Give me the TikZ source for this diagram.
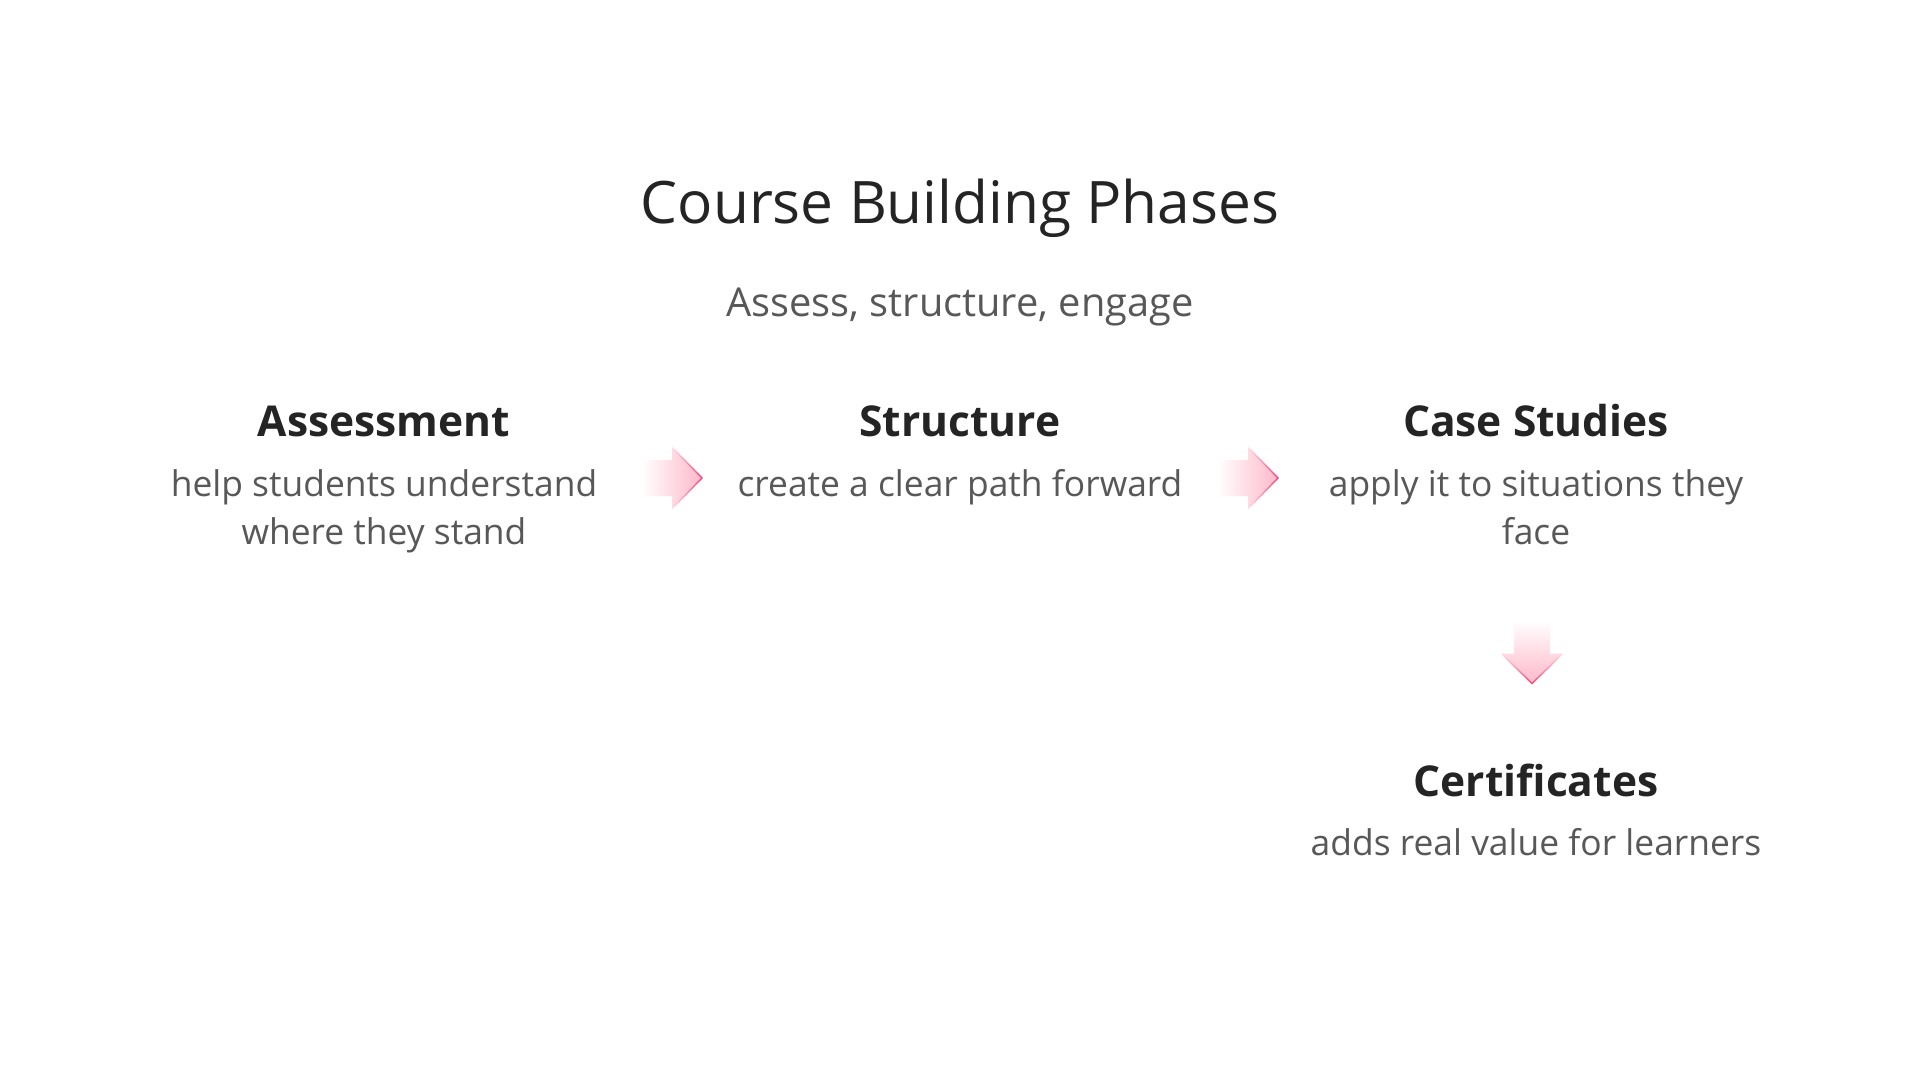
\documentclass[tikz,border=0pt]{standalone}
\usepackage{fontspec}
\setmainfont{Open Sans}
\usetikzlibrary{calc,fadings}

\definecolor{titlegray}{HTML}{242424}
\definecolor{descgray}{HTML}{585858}
\definecolor{arrowpink}{HTML}{FFB8CA}
\definecolor{edgepink}{HTML}{F0467A}

\begin{document}
\begin{tikzpicture}[x=1pt, y=-1pt,
    title/.style={inner sep=0, text=titlegray, font=\fontsize{58.6}{66}\selectfont},
    subtitle/.style={inner sep=0, text=descgray, font=\fontsize{39.8}{48}\selectfont},
    phase/.style={inner sep=0, text=titlegray, font=\bfseries\fontsize{42.5}{50}\selectfont},
    desc/.style={inner sep=0, anchor=north, align=center, text=descgray, font=\fontsize{35.4}{48}\selectfont},
    rarrow/.pic={
        \shade[left color=white, right color=arrowpink] (-31,-18) -- (0,-18) -- (0,-31) -- (30,0) -- (0,31) -- (0,18) -- (-31,18) -- cycle;
        \draw[edgepink, line width=1.4, path fading=west] (0,-31) -- (30,0) -- (0,31);
    },
    darrow/.pic={
        \shade[top color=white, bottom color=arrowpink] (-18,-33) -- (-18,0) -- (-31,0) -- (0,30) -- (31,0) -- (18,0) -- (18,-33) -- cycle;
        \draw[edgepink, line width=1.4, path fading=north] (-31,0) -- (0,30) -- (31,0);
    }
]
    \useasboundingbox[fill=white] (0,0) rectangle (1920,1080);

    \node[title] (head) at (960,208) {Course Building Phases};
    \node[subtitle] (sub) at (960,307) {Assess, structure, engage};

    \node[phase] (assess) at (384,421) {Assessment};
    \node[phase] (struct) at (960,421) {Structure};
    \node[phase] (cases) at (1536,421) {Case Studies};
    \node[phase] (certs) at (1536,780) {Certificates};

    \node[desc] (assessdesc) at (384,469) {help students understand\\where they stand};
    \node[desc] (structdesc) at (960,469) {create a clear path forward};
    \node[desc] (casesdesc) at (1536,469) {apply it to situations they\\face};
    \node[desc] (certsdesc) at (1536,828) {adds real value for learners};

    \pic at ($(assess)!0.5!(struct) + (0,57)$) {rarrow};
    \pic at ($(struct)!0.5!(cases) + (0,57)$) {rarrow};
    \pic at ($(cases)!0.5!(certs) + (-4,53)$) {darrow};

\end{tikzpicture}
\end{document}
